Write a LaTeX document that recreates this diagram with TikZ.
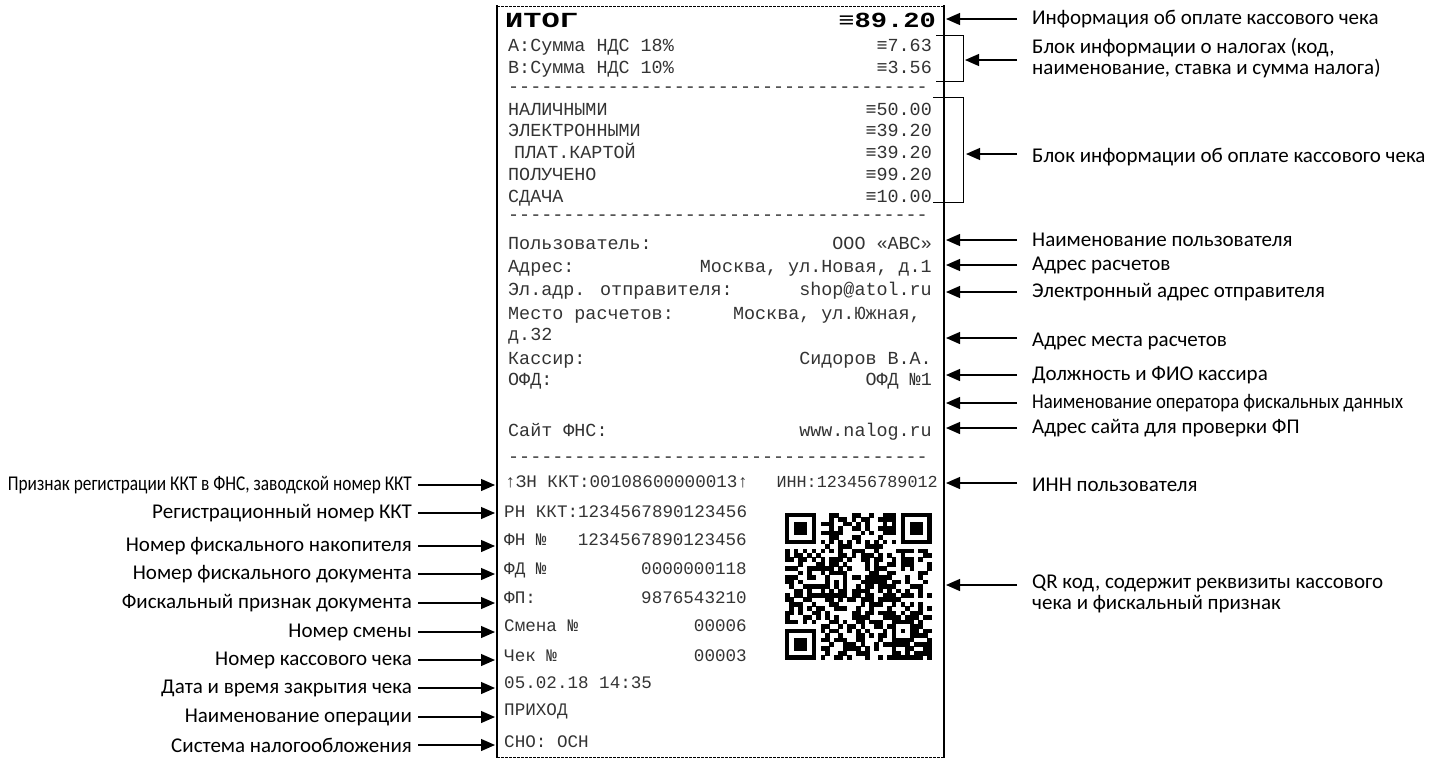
\documentclass[tikz,border=0pt]{standalone}
\usepackage{graphicx}
\usepackage{fontspec}
\setmainfont{Carlito}
\newfontfamily\monof{Liberation Mono}
\usetikzlibrary{arrows.meta,calc}
\begin{document}
\begin{tikzpicture}[x=1pt,y=-1pt,
  lab/.style={font=\fontsize{21}{20.5}\selectfont, inner sep=0pt},
  labl/.style={lab, anchor=east},
  labr/.style={lab, anchor=west, align=left},
  rcp/.style={font=\monof\fontsize{18.4}{20}\selectfont, text=black!80, inner sep=0pt},
  rl/.style={rcp, anchor=mid west},
  rr/.style={rcp, anchor=mid east},
  rcps/.style={font=\monof\fontsize{17.6}{20}\selectfont, text=black!80, inner sep=0pt},
  sl/.style={rcps, anchor=mid west},
  sr/.style={rcps, anchor=mid east},
  big/.style={font=\monof\bfseries\fontsize{21.5}{22}\selectfont, inner sep=0pt},
  arr/.style={line width=1.2pt, -{Triangle[length=14pt,width=12pt]}},
  brk/.style={line width=0.9pt},
  edge/.style={line width=0.8pt, dash pattern=on 2.5pt off 1.5pt},
]
\useasboundingbox (0,0) rectangle (1430,758);

% receipt outline
\draw[edge] (497,6) -- (945,6);
\draw[edge] (497,757) -- (945,757);
\draw[line width=2.2pt] (497,5) -- (497,758);
\draw[line width=2pt] (944,5) -- (944,758);
\coordinate (tipL) at (495,0);
\coordinate (tipR) at (946,0);

% header
\node[big, anchor=mid west] (itog) at (505,25) {\scalebox{1.41}[1]{ИТОГ}};
\node[big, anchor=mid east] (itogv) at (936,25) {\scalebox{1.26}[1]{≡89.20}};

% taxes
\node[rl] (ta) at (508,49) {A:Сумма НДС 18\%};
\node[rr] (tav) at (932,49) {≡7.63};
\node[rl] (tb) at (508,71) {B:Сумма НДС 10\%};
\node[rr] (tbv) at (932,71) {≡3.56};
\node[rl] (d1) at (508,90) {--------------------------------------};

% payment
\node[rl] (p1) at (508,113) {НАЛИЧНЫМИ};
\node[rr] (p1v) at (932,113) {≡50.00};
\node[rl] (p2) at (508,134) {ЭЛЕКТРОННЫМИ};
\node[rr] (p2v) at (932,134) {≡39.20};
\node[rl] (p3) at (514,156) {ПЛАТ.КАРТОЙ};
\node[rr] (p3v) at (932,156) {≡39.20};
\node[rl] (p4) at (508,178) {ПОЛУЧЕНО};
\node[rr] (p4v) at (932,178) {≡99.20};
\node[rl] (p5) at (508,200) {СДАЧА};
\node[rr] (p5v) at (932,200) {≡10.00};
\node[rl] (d2) at (508,218) {--------------------------------------};

% user block
\node[rl] (u1) at (508,247) {Пользователь:};
\node[rr] (u1v) at (932,247) {ООО «АВС»};
\node[rl] (u2) at (508,270) {Адрес:};
\node[rr] (u2v) at (932,270) {Москва, ул.Новая, д.1};
\node[rl] (u3) at (508,293) {Эл.адр. отправителя:};
\node[rr] (u3v) at (932,293) {shop@atol.ru};
\node[rl] (u4) at (508,317) {Место расчетов:};
\node[rr] (u4v) at (921,317) {Москва, ул.Южная,};
\node[rl] (u5) at (508,338) {д.32};
\node[rl] (u6) at (508,362) {Кассир:};
\node[rr] (u6v) at (932,362) {Сидоров В.А.};
\node[rl] (u7) at (508,383) {ОФД:};
\node[rr] (u7v) at (932,383) {ОФД №1};
\node[rl] (u8) at (508,434) {Сайт ФНС:};
\node[rr] (u8v) at (932,434) {www.nalog.ru};
\node[rl] (d3) at (508,460) {--------------------------------------};

% fiscal block
\node[sl] (f0) at (505,485) {↑ЗН ККТ:00108600000013↑};
\node[rcps, font=\monof\fontsize{16.8}{20}\selectfont, anchor=mid east] (inn) at (938,485) {ИНН:123456789012};
\node[sl] (f1) at (504,515) {РН ККТ:1234567890123456};
\node[sl] (f2) at (504,543) {ФН №};
\node[sr] (f2v) at (747,543) {1234567890123456};
\node[sl] (f3) at (504,572) {ФД №};
\node[sr] (f3v) at (747,572) {0000000118};
\node[sl] (f4) at (504,601) {ФП:};
\node[sr] (f4v) at (747,601) {9876543210};
\node[sl] (f5) at (504,629) {Смена №};
\node[sr] (f5v) at (747,629) {00006};
\node[sl] (f6) at (504,659) {Чек №};
\node[sr] (f6v) at (747,659) {00003};
\node[sl] (f7) at (504,686) {05.02.18 14:35};
\node[sl] (f8) at (504,713) {ПРИХОД};
\node[sl] (f9) at (504,745) {СНО: ОСН};

% QR code
\def\qx{785}\def\qy{513}\def\qm{4.45}
\pgfmathsetseed{2018}
\foreach \i in {0,...,32}{
 \foreach \j in {0,...,32}{
  \pgfmathtruncatemacro\qz{((\i<8)&&(\j<8))||((\i>24)&&(\j<8))||((\i<8)&&(\j>24))||((\i>23)&&(\i<29)&&(\j>23)&&(\j<29))}
  \pgfmathtruncatemacro\qb{rnd<0.52}
  \ifnum\j=6 \pgfmathtruncatemacro\qb{mod(\i+1,2)}\fi
  \ifnum\i=6 \pgfmathtruncatemacro\qb{mod(\j+1,2)}\fi
  \ifnum\qz=0 \ifnum\qb=1
   \fill (\qx+\i*\qm-0.1, \qy+\j*\qm-0.1) rectangle ++(\qm+0.2,\qm+0.2);
  \fi\fi
 }}
\foreach \a/\b in {0/0, 26/0, 0/26}{
  \fill (\qx+\a*\qm, \qy+\b*\qm) rectangle ++(7*\qm, 7*\qm);
  \fill[white] (\qx+\a*\qm+\qm, \qy+\b*\qm+\qm) rectangle ++(5*\qm, 5*\qm);
  \fill (\qx+\a*\qm+2*\qm, \qy+\b*\qm+2*\qm) rectangle ++(3*\qm, 3*\qm);
}
\fill (\qx+24*\qm, \qy+24*\qm) rectangle ++(5*\qm, 5*\qm);
\fill[white] (\qx+25*\qm, \qy+25*\qm) rectangle ++(3*\qm, 3*\qm);
\fill (\qx+26*\qm, \qy+26*\qm) rectangle ++(\qm, \qm);

% brackets
\draw[brk] (936,35) -- (963,35) -- (963,81) -- (936,81);
\draw[brk] (933,97) -- (963,97) -- (963,202) -- (933,202);
\coordinate (bt) at (965,60);
\coordinate (bp) at (966,154);

% right labels
\node[labr] (r1) at (1032,19) {Информация об оплате кассового чека};
\node[labr] (r2) at (1032,58) {Блок информации о налогах (код,\\наименование, ставка и сумма налога)};
\node[labr] (r3) at (1032,157) {Блок информации об оплате кассового чека};
\node[labr] (r4) at (1032,240) {Наименование пользователя};
\node[labr] (r5) at (1032,265) {Адрес расчетов};
\node[labr] (r6) at (1032,292) {Электронный адрес отправителя};
\node[labr] (r7) at (1032,341) {Адрес места расчетов};
\node[labr] (r8) at (1032,375) {Должность и ФИО кассира};
\node[labr] (r9) at (1032,403) {\resizebox{371pt}{\height}{Наименование оператора фискальных данных}};
\node[labr] (r10) at (1032,428) {Адрес сайта для проверки ФП};
\node[labr] (r11) at (1032,485) {ИНН пользователя};
\node[labr] (r12) at (1032,594) {QR код, содержит реквизиты кассового\\чека и фискальный признак};

\draw[arr] ([xshift=-15pt]r1.west) -- (r1.west -| tipR);
\draw[arr] ([xshift=-15pt]r2.west |- bt) -- (bt);
\draw[arr] ([xshift=-15pt]r3.west |- bp) -- (bp);
\draw[arr] ([xshift=-15pt]r4.west) -- (r4.west -| tipR);
\draw[arr] ([xshift=-15pt]r5.west) -- (r5.west -| tipR);
\draw[arr] ([xshift=-15pt]r6.west) -- (r6.west -| tipR);
\draw[arr] ([xshift=-15pt,yshift=3pt]r7.west) -- ([yshift=3pt]r7.west -| tipR);
\draw[arr] ([xshift=-15pt]r8.west) -- (r8.west -| tipR);
\draw[arr] ([xshift=-15pt]r9.west) -- (r9.west -| tipR);
\draw[arr] ([xshift=-15pt]r10.west) -- (r10.west -| tipR);
\draw[arr] ([xshift=-15pt,yshift=2pt]r11.west) -- ([yshift=2pt]r11.west -| tipR);
\draw[arr] ([xshift=-15pt,yshift=9pt]r12.west) -- ([yshift=9pt]r12.west -| tipR);

% left labels
\node[labl] (l1) at (412,485) {\resizebox{404pt}{\height}{Признак регистрации ККТ в ФНС, заводской номер ККТ}};
\node[labl] (l2) at (412,513) {Регистрационный номер ККТ};
\node[labl] (l3) at (412,546) {Номер фискального накопителя};
\node[labl] (l4) at (412,574) {Номер фискального документа};
\node[labl] (l5) at (412,603) {Фискальный признак документа};
\node[labl] (l6) at (412,632) {Номер смены};
\node[labl] (l7) at (412,660) {Номер кассового чека};
\node[labl] (l8) at (412,688) {Дата и время закрытия чека};
\node[labl] (l9) at (412,717) {Наименование операции};
\node[labl] (l10) at (412,745) {Система налогообложения};
\foreach \n in {l1,l2,l3,l4,l5,l6,l7,l8,l9,l10}{
  \draw[arr] ([xshift=6pt]\n.east) -- (\n.east -| tipL);
}
\end{tikzpicture}
\end{document}
